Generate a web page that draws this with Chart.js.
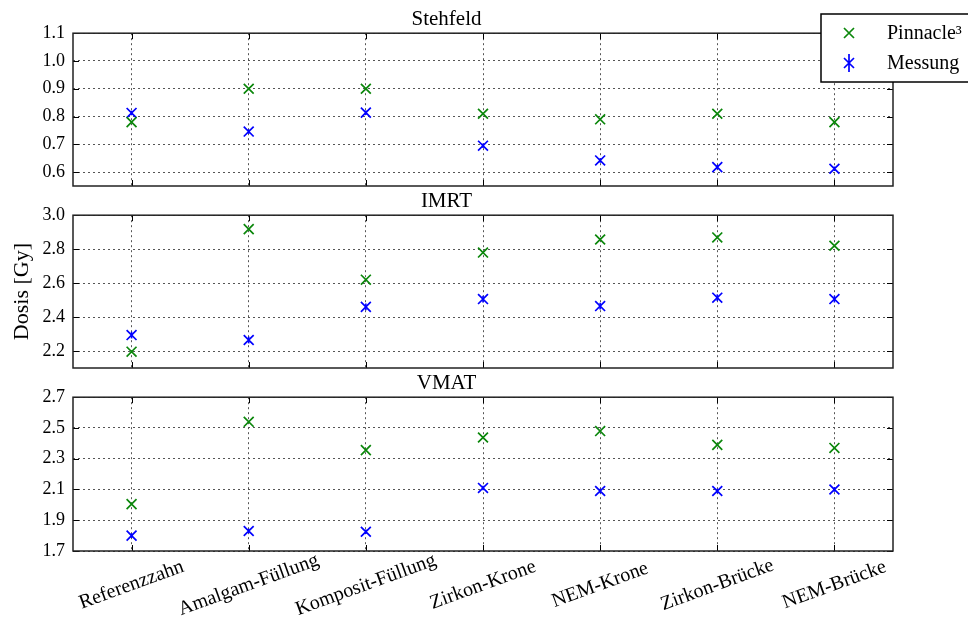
<!DOCTYPE html>
<html>
<head>
<meta charset="utf-8">
<script src="https://cdn.jsdelivr.net/npm/chart.js@4.4.1/dist/chart.umd.min.js"></script>
<style>
  html, body { margin: 0; padding: 0; background: #fff; }
  #wrap { position: relative; width: 968px; height: 625px; overflow: hidden; background: #fff; }
  canvas { position: absolute; left: 0; }
</style>
</head>
<body>
<div id="wrap">
  <canvas id="stehfeld" width="968" height="210" style="top:0px"></canvas>
  <canvas id="imrt" width="968" height="210" style="top:182px"></canvas>
  <canvas id="vmat" width="968" height="261" style="top:364px"></canvas>
</div>
<script>
// Prüfkörper (x categories)
const categories = ['Referenzzahn', 'Amalgam-Füllung', 'Komposit-Füllung', 'Zirkon-Krone', 'NEM-Krone', 'Zirkon-Brücke', 'NEM-Brücke'];
const seriesNames = ['Pinnacle³', 'Messung'];

// Stehfeld
const stehfeldPinnacle = [0.78, 0.90, 0.90, 0.81, 0.79, 0.81, 0.78];
const stehfeldMessung  = [0.813, 0.746, 0.814, 0.695, 0.642, 0.618, 0.612];
const stehfeldFehler   = [0.008, 0.008, 0.008, 0.008, 0.008, 0.008, 0.008];
const stehfeldTicks    = [0.6, 0.7, 0.8, 0.9, 1.0, 1.1];
const stehfeldRange    = [0.55, 1.1];

// IMRT
const imrtPinnacle = [2.196, 2.918, 2.62, 2.78, 2.857, 2.869, 2.82];
const imrtMessung  = [2.294, 2.265, 2.46, 2.506, 2.465, 2.514, 2.506];
const imrtFehler   = [0.02, 0.02, 0.02, 0.02, 0.02, 0.02, 0.02];
const imrtTicks    = [2.2, 2.4, 2.6, 2.8, 3.0];
const imrtRange    = [2.1, 3.0];

// VMAT
const vmatPinnacle = [2.005, 2.54, 2.356, 2.438, 2.48, 2.39, 2.37];
const vmatMessung  = [1.80, 1.83, 1.825, 2.11, 2.09, 2.09, 2.10];
const vmatFehler   = [0.015, 0.015, 0.015, 0.015, 0.015, 0.015, 0.015];
const vmatTicks    = [1.7, 1.9, 2.1, 2.3, 2.5, 2.7];
const vmatRange    = [1.7, 2.7];

const SERIF = '"Liberation Serif", "DejaVu Serif", serif';
const GREEN = '#0b870b';
const BLUE = '#0000ff';
const TICK_LEN = 6;

// error bars of the measured series
const errorBars = {
  id: 'errorBars',
  afterDatasetsDraw(chart) {
    const ctx = chart.ctx;
    const ys = chart.scales.y;
    chart.data.datasets.forEach((ds, i) => {
      if (!ds.errors) return;
      const meta = chart.getDatasetMeta(i);
      ctx.save();
      ctx.strokeStyle = ds.borderColor;
      ctx.lineWidth = 1.6;
      meta.data.forEach((el, j) => {
        const v = ds.data[j], e = ds.errors[j];
        ctx.beginPath();
        ctx.moveTo(el.x, ys.getPixelForValue(v + e));
        ctx.lineTo(el.x, ys.getPixelForValue(v - e));
        ctx.stroke();
      });
      ctx.restore();
    });
  }
};

// axes frame with inward ticks on all four sides
const frame = {
  id: 'frame',
  afterDraw(chart) {
    const { ctx, chartArea: a } = chart;
    const xs = chart.scales.x, ys = chart.scales.y;
    ctx.save();
    ctx.strokeStyle = '#000';
    ctx.lineWidth = 1;
    ctx.beginPath();
    xs.ticks.forEach((t, i) => {
      const x = Math.round(xs.getPixelForTick(i)) + 0.5;
      ctx.moveTo(x, a.bottom); ctx.lineTo(x, a.bottom - TICK_LEN);
      ctx.moveTo(x, a.top); ctx.lineTo(x, a.top + TICK_LEN);
    });
    ys.ticks.forEach(t => {
      const y = Math.round(ys.getPixelForValue(t.value)) + 0.5;
      ctx.moveTo(a.left, y); ctx.lineTo(a.left + TICK_LEN, y);
      ctx.moveTo(a.right, y); ctx.lineTo(a.right - TICK_LEN, y);
    });
    ctx.stroke();
    ctx.strokeStyle = '#222';
    ctx.lineWidth = 1.5;
    ctx.strokeRect(a.left, a.top, a.right - a.left, a.bottom - a.top);
    ctx.restore();
  }
};

// rotated category labels under the lowest panel
const slantedLabels = {
  id: 'slantedLabels',
  afterDraw(chart) {
    const { ctx, chartArea: a } = chart;
    const xs = chart.scales.x;
    ctx.save();
    ctx.fillStyle = '#000';
    ctx.font = '20px ' + SERIF;
    ctx.textAlign = 'center';
    ctx.textBaseline = 'middle';
    chart.data.labels.forEach((lab, i) => {
      ctx.save();
      ctx.translate(xs.getPixelForTick(i), a.bottom + 34);
      ctx.rotate(-20 * Math.PI / 180);
      ctx.fillText(lab, 0, 0);
      ctx.restore();
    });
    ctx.restore();
  }
};

// figure legend in the top right corner
const cornerLegend = {
  id: 'cornerLegend',
  afterDraw(chart) {
    const ctx = chart.ctx;
    ctx.save();
    ctx.fillStyle = '#fff';
    ctx.fillRect(821, 14, 160, 68);
    ctx.strokeStyle = '#000';
    ctx.lineWidth = 1.5;
    ctx.strokeRect(821, 14, 160, 68);
    const rows = [33, 63];
    chart.data.datasets.forEach((ds, i) => {
      const y = rows[i];
      ctx.strokeStyle = ds.borderColor;
      ctx.lineWidth = ds.pointBorderWidth;
      ctx.beginPath();
      ctx.moveTo(849 - 5, y - 5); ctx.lineTo(849 + 5, y + 5);
      ctx.moveTo(849 + 5, y - 5); ctx.lineTo(849 - 5, y + 5);
      if (ds.errors) { ctx.moveTo(849, y - 9); ctx.lineTo(849, y + 9); }
      ctx.stroke();
      ctx.fillStyle = '#000';
      ctx.font = '20px ' + SERIF;
      ctx.textAlign = 'left';
      ctx.textBaseline = 'middle';
      ctx.fillText(ds.label, 887, y + 1);
    });
    ctx.restore();
  }
};

function makePanel(id, title, pin, mess, err, range, ticks, opt) {
  const plugins = [errorBars, frame];
  if (opt.slanted) plugins.push(slantedLabels);
  if (opt.legend) plugins.push(cornerLegend);
  return new Chart(document.getElementById(id), {
    type: 'line',
    data: {
      labels: categories,
      datasets: [
        { label: seriesNames[0], data: pin, showLine: false, pointStyle: 'crossRot',
          pointRadius: 7, pointHoverRadius: 7, pointBorderWidth: 1.7,
          borderColor: GREEN, backgroundColor: GREEN },
        { label: seriesNames[1], data: mess, errors: err, showLine: false, pointStyle: 'crossRot',
          pointRadius: 7, pointHoverRadius: 7, pointBorderWidth: 1.7,
          borderColor: BLUE, backgroundColor: BLUE }
      ]
    },
    options: {
      responsive: false,
      animation: false,
      events: [],
      layout: { autoPadding: false, padding: { left: 0, right: 75, top: 0, bottom: 0 } },
      plugins: {
        legend: { display: false },
        tooltip: { enabled: false },
        title: {
          display: true, text: title, color: '#000',
          font: { family: SERIF, size: 21, weight: 'normal' },
          padding: { top: 7, bottom: 1 }
        }
      },
      scales: {
        x: {
          type: 'category',
          offset: true,
          grid: { color: '#555', lineWidth: 1, drawTicks: false },
          border: { display: false, dash: [2, 3] },
          ticks: { display: false },
          afterFit: s => { s.height = opt.xHeight; }
        },
        y: {
          min: range[0], max: range[1],
          grid: { color: '#555', lineWidth: 1, drawTicks: false },
          border: { display: false, dash: [2, 3] },
          afterBuildTicks: s => { s.ticks = ticks.map(v => ({ value: v })); },
          ticks: {
            color: '#000', padding: 8,
            font: { family: SERIF, size: 18 },
            callback: v => Number(v).toFixed(1)
          },
          title: opt.yTitle ? {
            display: true, text: opt.yTitle, color: '#000',
            font: { family: SERIF, size: 22 }, padding: { top: 9, bottom: 0 }
          } : { display: false },
          afterFit: s => { s.width = 73; }
        }
      }
    },
    plugins
  });
}

makePanel('stehfeld', 'Stehfeld', stehfeldPinnacle, stehfeldMessung, stehfeldFehler,
  stehfeldRange, stehfeldTicks, { xHeight: 24, legend: true });
makePanel('imrt', 'IMRT', imrtPinnacle, imrtMessung, imrtFehler,
  imrtRange, imrtTicks, { xHeight: 24, yTitle: 'Dosis [Gy]' });
makePanel('vmat', 'VMAT', vmatPinnacle, vmatMessung, vmatFehler,
  vmatRange, vmatTicks, { xHeight: 74, slanted: true });
</script>
</body>
</html>
